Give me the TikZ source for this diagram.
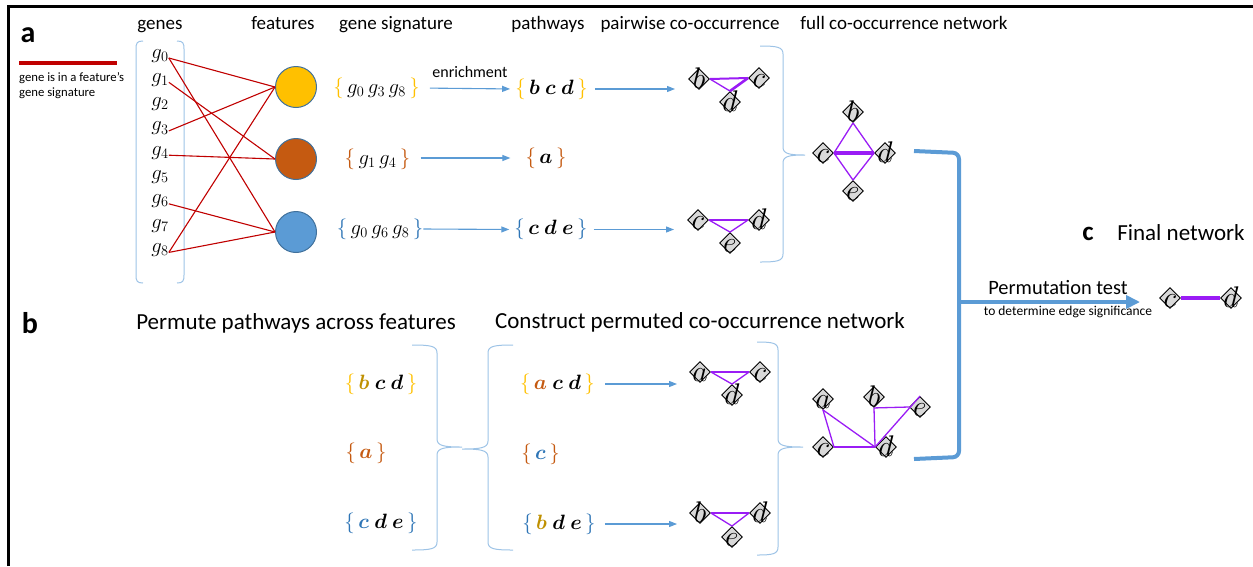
\documentclass[tikz,border=0pt]{standalone}
\usepackage{amsmath}
\usepackage{fontspec}
\setmainfont{Carlito}
\usetikzlibrary{arrows.meta,shapes.geometric}

\definecolor{gold}{HTML}{FFC000}
\definecolor{rust}{HTML}{C55A11}
\definecolor{sky}{HTML}{5B9BD5}
\definecolor{steel}{HTML}{2E75B6}
\definecolor{ochre}{HTML}{BF9000}
\definecolor{paleblue}{HTML}{9DC3E6}
\definecolor{linkred}{HTML}{C00000}
\definecolor{edgeviolet}{HTML}{9A1CF5}
\definecolor{nodegray}{HTML}{D9D9D9}
\definecolor{ringblue}{HTML}{41719C}

% coloured set braces around a list of symbols
\newcommand{\colset}[2]{\textcolor{#1}{$\{$}\,#2\,\textcolor{#1}{$\}$}}
% a large letter that overflows its diamond without widening it
\newcommand{\vlab}[1]{\smash{\makebox[0pt]{\raisebox{-9pt}{\scalebox{1.2}{$#1$}}}}}
% curly bracket: ends at x=#1, spine at x=#2, tip at x=#3; top, tip and bottom heights #4, #5, #6
\newcommand{\curlybrk}[6]{%
  \draw[brk] (#1,#4) .. controls ({#2+0.25*(#1-#2)},#4) and (#2,{#4+1}) .. (#2,{#4+8})
    -- (#2,{#5-8}) .. controls (#2,{#5-1}) and ({#2+0.3*(#3-#2)},#5) .. (#3,#5)
    .. controls ({#2+0.3*(#3-#2)},#5) and (#2,{#5+1}) .. (#2,{#5+8})
    -- (#2,{#6-8}) .. controls (#2,{#6-1}) and ({#2+0.25*(#1-#2)},#6) .. (#1,#6);}

\tikzset{
  hdr/.style={font=\fontsize{19}{21}\selectfont, inner sep=0pt, anchor=base},
  panel/.style={font=\bfseries\fontsize{30}{32}\selectfont, inner sep=0pt, anchor=base},
  title/.style={font=\fontsize{23}{26}\selectfont, inner sep=0pt, anchor=base},
  note/.style={font=\fontsize{12.7}{14}\selectfont, inner sep=0pt, anchor=base west},
  gene/.style={font=\fontsize{20.74}{24}\selectfont, inner sep=0pt, anchor=base},
  gset/.style={font=\fontsize{20.74}{24}\selectfont, inner sep=0pt},
  feat/.style={circle, draw=ringblue, line width=1pt, minimum size=41pt, inner sep=0pt},
  link/.style={draw=linkred, line width=1.1pt},
  flow/.style={draw=sky, line width=1.1pt, -{Triangle[length=8pt,width=6pt]}},
  brk/.style={draw=paleblue, line width=1pt},
  vx/.style={diamond, draw=black, fill=nodegray, line width=0.9pt, minimum size=21pt,
             inner sep=0pt, font=\fontsize{24.88}{25}\selectfont},
  tie/.style={draw=edgeviolet, line width=1.3pt},
  bigflow/.style={draw=sky, line width=4pt},
}

\begin{document}
\begin{tikzpicture}[x=1pt,y=-1pt]
\useasboundingbox (0,0) rectangle (1253,566);

% frame
\draw[line width=3pt] (8.5,566) -- (8.5,6.5) -- (1253,6.5);

% ---------------- panel a ----------------
\node[panel] (la) at (28,42) {a};
\draw[linkred, line width=4pt] (19,63) -- (117,63);
\node[note] (lg1) at (19,81) {gene is in a feature’s};
\node[note] (lg2) at (19,96) {gene signature};

\node[hdr] (hgenes) at (160,29) {genes};
\node[hdr] (hfeat) at (283,29) {features};
\node[hdr] (hsig) at (396,29) {gene signature};
\node[hdr] (hpath) at (548,29) {pathways};
\node[hdr] (hpair) at (690,29) {pairwise co-occurrence};
\node[hdr] (hfull) at (904,29) {full co-occurrence network};

% genes
\foreach \k in {0,...,8} {
  \node[gene] (g\k) at (160,{58+24.3*\k}) {$g_{\k}$};
}
\draw[brk] (143,41) .. controls (137,41) and (136,43) .. (136,49) -- (136,275)
  .. controls (136,281) and (137,283) .. (143,283);
\draw[brk] (177,41) .. controls (183,41) and (184,43) .. (184,49) -- (184,275)
  .. controls (184,281) and (183,283) .. (177,283);

% features
\node[feat, fill=gold] (fy) at (296,87) {};
\node[feat, fill=rust] (fr) at (296,159) {};
\node[feat, fill=sky] (fs) at (296,232) {};

\draw[link] (g0.base east) -- (fy.west);
\draw[link] (g0.base east) -- (fs.west);
\draw[link] (g1.base east) -- (fr.west);
\draw[link] (g3.base east) -- (fy.west);
\draw[link] (g4.base east) -- (fr.west);
\draw[link] (g6.base east) -- (fs.west);
\draw[link] (g8.base east) -- (fy.west);
\draw[link] (g8.base east) -- (fs.west);

% gene signatures
\node[gset] (s1) at (376.5,88) {\colset{gold}{$g_0\, g_3\, g_8$}};
\node[gset] (s2) at (377.5,159) {\colset{rust}{$g_1\, g_4$}};
\node[gset] (s3) at (380,229) {\colset{steel}{$g_0\, g_6\, g_8$}};

% pathways
\node[gset] (p1) at (551.5,89) {\colset{gold}{{\boldmath$b\: c\: d$}}};
\node[gset] (p2) at (546,158) {\colset{rust}{{\boldmath$a$}}};
\node[gset] (p3) at (551,229.5) {\colset{steel}{{\boldmath$c\: d\: e$}}};

\node[font=\fontsize{16}{18}\selectfont, inner sep=0pt, anchor=base] (enr) at (470,77) {enrichment};
\draw[flow, shorten <=10pt, shorten >=5pt] (s1.east) -- (p1.west);
\draw[flow, shorten <=10pt, shorten >=15pt] (s2.east |- p2.west) -- (p2.west);
\draw[flow, shorten >=5pt] (s3.east) -- (p3.west);

% pairwise networks
\node[vx] (ab) at (699,79) {\vlab{b}};
\node[vx] (ac) at (759,78) {\vlab{c}};
\node[vx] (ad) at (730,102) {\vlab{d}};
\draw[tie, line width=2pt] (ab.east) -- (ac.west);
\draw[tie] (ab.east) -- (ad.north);
\draw[tie, line width=2.6pt] (ac.west) -- (ad.north);

\node[vx] (bc) at (698,220) {\vlab{c}};
\node[vx] (bd) at (759,220) {\vlab{d}};
\node[vx] (be) at (730,243) {\vlab{e}};
\draw[tie, line width=2pt] (bc.east) -- (bd.west);
\draw[tie] (bc.east) -- (be.north);
\draw[tie] (bd.west) -- (be.north);

\draw[flow, shorten <=7pt, shorten >=13pt] (p1.east) -- (p1.east -| ab.west);
\draw[flow, shorten <=6pt, shorten >=13pt] (p3.east) -- (p3.east -| bc.west);

\curlybrk{760}{783}{805}{46}{155}{262}

% full network
\node[vx] (Fb) at (853,112) {\vlab{b}};
\node[vx] (Fc) at (823,153) {\vlab{c}};
\node[vx] (Fd) at (885,153) {\vlab{d}};
\node[vx] (Fe) at (853,191) {\vlab{e}};
\draw[tie] (Fb.south) -- (Fc.east);
\draw[tie] (Fb.south) -- (Fd.west);
\draw[tie] (Fe.north) -- (Fc.east);
\draw[tie] (Fe.north) -- (Fd.west);
\draw[tie, line width=4.5pt] (Fc.east) -- (Fd.west);

% ---------------- panel b ----------------
\node[panel] (lb) at (30,333) {b};
\node[title] (tperm) at (296,329) {Permute pathways across features};
\node[title] (tcons) at (700,328) {Construct permuted co-occurrence network};

\node[gset] (o1) at (381,384) {\colset{gold}{{\boldmath$\textcolor{ochre}{b}\: c\: d$}}};
\node[gset] (o2) at (366,453.5) {\colset{rust}{{\boldmath$\textcolor{rust}{a}$}}};
\node[gset] (o3) at (381,523.5) {\colset{steel}{{\boldmath$\textcolor{steel}{c}\: d\: e$}}};

\curlybrk{412}{437}{462}{345}{447}{550}
\curlybrk{513}{488}{462}{345}{449}{550}

\node[gset] (r1) at (557.5,384) {\colset{gold}{{\boldmath$\textcolor{rust}{a}\: c\: d$}}};
\node[gset] (r2) at (540.5,454) {\colset{rust}{{\boldmath$\textcolor{steel}{c}$}}};
\node[gset] (r3) at (559,524) {\colset{steel}{{\boldmath$\textcolor{ochre}{b}\: d\: e$}}};

\node[vx] (ca) at (700,372) {\vlab{a}};
\node[vx] (cc) at (760,372) {\vlab{c}};
\node[vx] (cd) at (732,395) {\vlab{d}};
\draw[tie] (ca.east) -- (cc.west);
\draw[tie] (ca.east) -- (cd.north);
\draw[tie] (cc.west) -- (cd.north);

\node[vx] (db) at (700,513) {\vlab{b}};
\node[vx] (dd) at (760,513) {\vlab{d}};
\node[vx] (de) at (732,537) {\vlab{e}};
\draw[tie] (db.east) -- (dd.west);
\draw[tie] (db.east) -- (de.north);
\draw[tie] (dd.west) -- (de.north);

\draw[flow, shorten <=10pt, shorten >=12pt] (r1.east) -- (r1.east -| ca.west);
\draw[flow, shorten <=9pt, shorten >=12pt] (r3.east) -- (r3.east -| db.west);

\curlybrk{757}{778}{803}{342}{447}{555}

% permuted network
\node[vx] (Pa) at (823,399) {\vlab{a}};
\node[vx] (Pb) at (874,397) {\vlab{b}};
\node[vx] (Pe) at (920,407) {\vlab{e}};
\node[vx] (Pc) at (823,447) {\vlab{c}};
\node[vx] (Pd) at (886,447) {\vlab{d}};
\draw[tie] (Pa.south) -- (Pc.east);
\draw[tie] (Pa.south) -- (Pd.west);
\draw[tie] (Pc.east) -- (Pd.west);
\draw[tie] (Pb.south) -- (Pd.west);
\draw[tie] (Pb.south) -- (Pe.west);
\draw[tie] (Pd.west) -- (Pe.north);

% ---------------- panel c ----------------
\node[vx] (Gc) at (1170,298) {\vlab{c}};
\node[vx] (Gd) at (1231,298) {\vlab{d}};
\draw[tie, line width=4.5pt] (Gc.east) -- (Gd.west);

\coordinate (jt) at (914,151);
\coordinate (jb) at (914,459);
\coordinate (jm) at (959,302);
\draw[bigflow, rounded corners=6pt] (jt) -- (959,153) -- (959,457) -- (jb);
\draw[bigflow, -{Triangle[length=14pt,width=13pt]}, shorten >=19pt] (jm) -- (jm -| Gc.west);

\node[panel, font=\bfseries\fontsize{27}{29}\selectfont] (lc) at (1088,240) {c};
\node[title] (tfin) at (1181,240) {Final network};
\node[font=\fontsize{20.4}{22}\selectfont, inner sep=0pt, anchor=base] (tpt) at (1058,294) {Permutation test};
\node[font=\fontsize{13.5}{15}\selectfont, inner sep=0pt, anchor=base] (tsig) at (1068,315) {to determine edge significance};
\end{tikzpicture}
\end{document}
